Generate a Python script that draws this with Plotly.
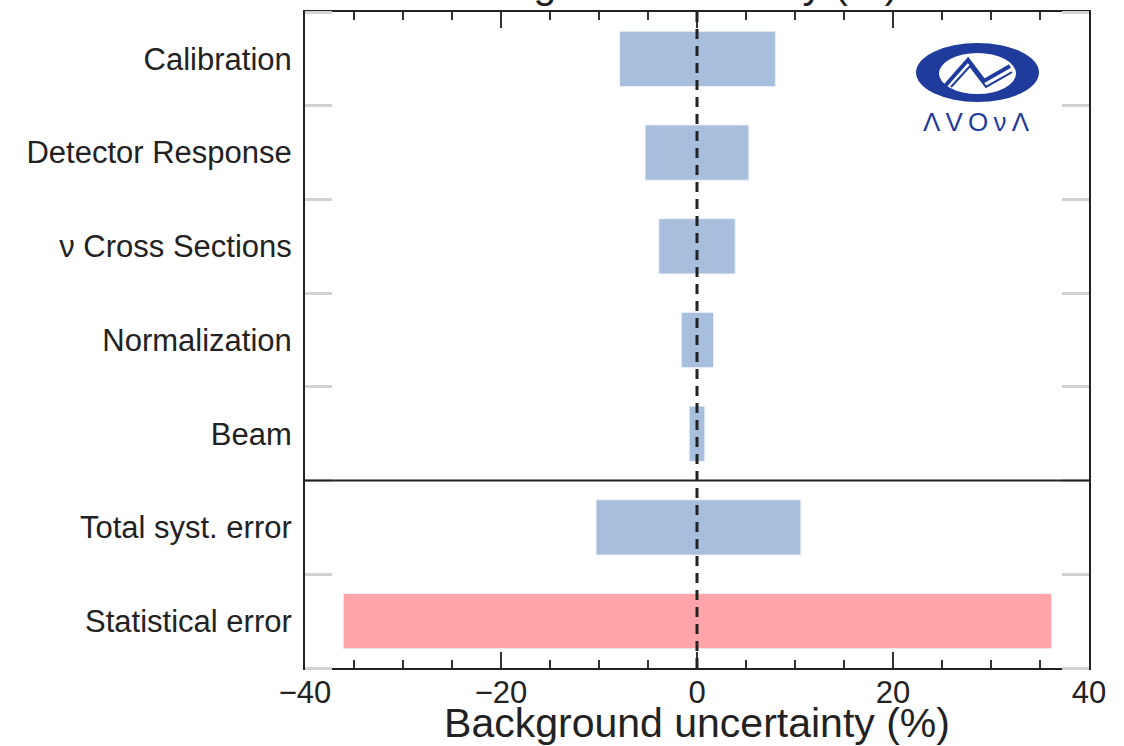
import plotly.graph_objects as go

# ---- data ----
categories = ["Calibration", "Detector Response", "\u03bd Cross Sections", "Normalization",
              "Beam", "Total syst. error", "Statistical error"]
low_values = [-7.9, -5.3, -3.9, -1.6, -0.8, -10.3, -36.1]
high_values = [8.0, 5.3, 3.9, 1.7, 0.8, 10.6, 36.2]
bar_colors = ["#a7bfdd"] * 6 + ["#ffa5aa"]
x_ticks = [-40, -20, 0, 20, 40]
x_tick_labels = ["\u221240", "\u221220", "0", "20", "40"]

n = len(categories)
ypos = [n - 1 - i for i in range(n)]  # top row first
widths = [h - l for l, h in zip(low_values, high_values)]

FONT = "Liberation Sans, Arial, Helvetica, sans-serif"

fig = go.Figure()
fig.add_trace(go.Bar(
    y=ypos, x=widths, base=low_values, orientation="h",
    width=0.59,
    marker=dict(color=bar_colors, line=dict(color="#eef2f8", width=1)),
    showlegend=False, hoverinfo="skip",
))

W, H = 1124, 746
L, R, T, B = 305, 35, 12, 78
pw, ph = W - L - R, H - T - B


def px(x):
    return (x - L) / pw


def py(y):
    return (H - B - y) / ph


shapes = []
# zero dashed line
shapes.append(dict(type="line", xref="x", yref="paper", x0=0, x1=0, y0=0, y1=1,
                   line=dict(color="#222222", width=3, dash="10px,7px"), layer="above"))
# separator between systematics and totals
shapes.append(dict(type="line", xref="paper", yref="y", x0=0, x1=1, y0=1.5, y1=1.5,
                   line=dict(color="#222222", width=2), layer="above"))

# NOvA logo (approximate)
logo_blue = "#1f3c9c"
shapes.append(dict(type="circle", xref="paper", yref="paper",
                   x0=px(916), x1=px(1039), y0=py(102), y1=py(43),
                   fillcolor=logo_blue, line=dict(width=0), layer="above"))
shapes.append(dict(type="circle", xref="paper", yref="paper",
                   x0=px(939), x1=px(1016), y0=py(94), y1=py(53),
                   fillcolor="white", line=dict(width=0), layer="above"))
pts = [(945, 86), (968, 60), (984, 81), (1010, 66)]
path = "M " + " L ".join(f"{px(a):.4f},{py(b):.4f}" for a, b in pts)
shapes.append(dict(type="path", xref="paper", yref="paper", path=path,
                   line=dict(color=logo_blue, width=4), layer="above"))
pts2 = [(951, 87), (970, 66), (986, 87), (1012, 72)]
path2 = "M " + " L ".join(f"{px(a):.4f},{py(b):.4f}" for a, b in pts2)
shapes.append(dict(type="path", xref="paper", yref="paper", path=path2,
                   line=dict(color=logo_blue, width=2), layer="above"))

annotations = [
    dict(text="Signal uncertainty (%)", xref="paper", yref="paper", x=0.5, y=py(9),
         xanchor="center", yanchor="bottom", showarrow=False,
         font=dict(family=FONT, size=41, color="#222222")),
    dict(text="\u039b\u2009V\u2009O\u2009\u03bd\u2009\u039b", xref="paper", yref="paper",
         x=px(976), y=py(122), xanchor="center", yanchor="middle", showarrow=False,
         font=dict(family=FONT, size=26, color=logo_blue)),
]

fig.update_layout(
    width=W, height=H,
    margin=dict(l=L, r=R, t=T, b=B, pad=0, autoexpand=False),
    paper_bgcolor="white", plot_bgcolor="white",
    shapes=shapes, annotations=annotations,
    font=dict(family=FONT, color="#222222"),
    xaxis=dict(
        automargin=False,
        range=[-40, 40], tickmode="array", tickvals=x_ticks, ticktext=x_tick_labels,
        ticks="inside", ticklen=16, tickwidth=1.5, tickcolor="#333333",
        minor=dict(dtick=5, tick0=0, ticks="inside", ticklen=8, tickwidth=1.5,
                   tickcolor="#333333", showgrid=False),
        showline=True, linecolor="#222222", linewidth=2, mirror="allticks",
        showgrid=False, zeroline=False, ticklabelstandoff=-4,
        tickfont=dict(family=FONT, size=31, color="#222222"),
        title=dict(text="Background uncertainty (%)", standoff=0,
                   font=dict(family=FONT, size=41, color="#222222")),
    ),
    yaxis=dict(
        automargin=False,
        range=[-0.5, n - 0.5], tickmode="array", tickvals=ypos, ticktext=categories,
        ticks="", showline=True, linecolor="#222222", linewidth=2, mirror="allticks",
        minor=dict(tick0=0.5, dtick=1, ticks="inside", ticklen=27, tickwidth=3,
                   tickcolor="#d2d2d2", showgrid=False),
        showgrid=False, zeroline=False, ticklabelstandoff=5,
        tickfont=dict(family=FONT, size=31, color="#222222"),
    ),
)

fig.write_html("out.html", config={"displayModeBar": False},
               post_script="document.body.style.margin='0';")
